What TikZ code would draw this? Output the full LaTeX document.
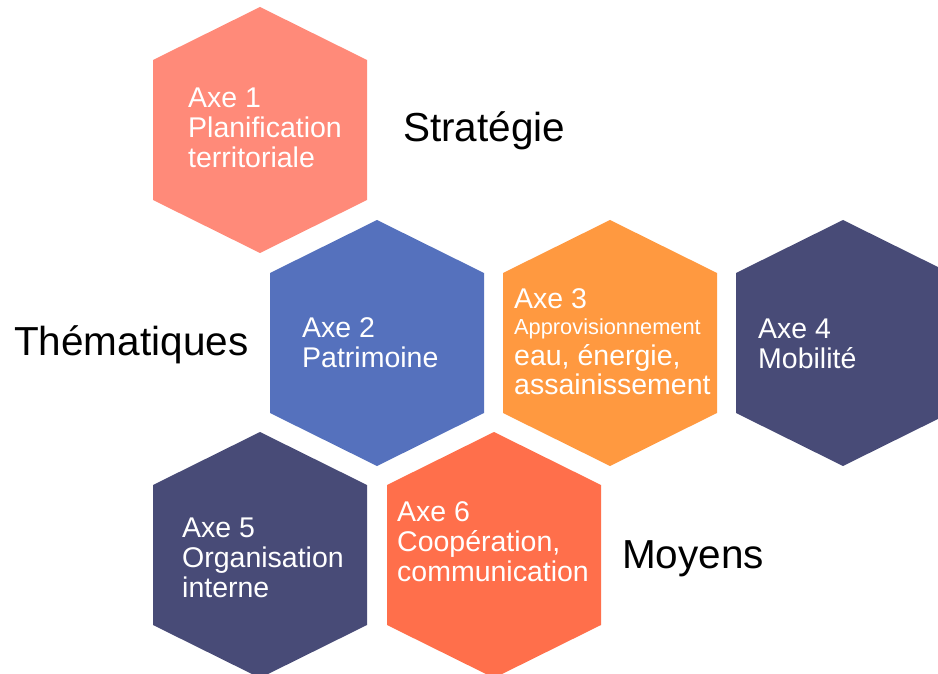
\documentclass[tikz,border=0pt]{standalone}
\usepackage{fontspec}
\setmainfont{Liberation Sans}
\definecolor{salmon}{RGB}{255,138,121}
\definecolor{bluehex}{RGB}{85,113,189}
\definecolor{orangehex}{RGB}{255,153,64}
\definecolor{navyhex}{RGB}{72,75,119}
\definecolor{coralhex}{RGB}{255,111,75}
\begin{document}
\begin{tikzpicture}[x=1pt,y=-1pt,
  axetext/.style={anchor=base west,align=left,text=white,inner sep=0pt,
    font=\fontsize{28.5}{30}\selectfont},
  grouplabel/.style={anchor=base west,inner sep=0pt,text=black,
    font=\fontsize{40.5}{46}\selectfont}]
\useasboundingbox (0,0) rectangle (938,674);
\newcommand\hexshape[3]{%
  \fill[#3] (#1,#2) ++(0,-123) -- ++(107,53) -- ++(0,140) -- ++(-107,53)
    -- ++(-107,-53) -- ++(0,-140) -- cycle;}
\hexshape{260}{130}{salmon}
\hexshape{377}{343}{bluehex}
\hexshape{610}{343}{orangehex}
\hexshape{843}{343}{navyhex}
\hexshape{260}{555}{navyhex}
\hexshape{494}{555}{coralhex}
% anchor = baseline of the last line
\node[axetext] (a1) at (188,168) {Axe 1\\Planification\\territoriale};
\node[axetext] (a2) at (302,367) {Axe 2\\Patrimoine};
\node[axetext] (a3) at (514,394) {Axe 3\\[-4pt]{\fontsize{21.8}{26}\selectfont Approvisionnement}\\[1pt]eau, énergie,\\[-1pt]assainissement};
\node[axetext] (a4) at (758,368) {Axe 4\\Mobilité};
\node[axetext] (a5) at (182,597) {Axe 5\\Organisation\\interne};
\node[axetext] (a6) at (397,581) {Axe 6\\Coopération,\\communication};
\node[grouplabel] (strat) at (403,142) {Stratégie};
\node[grouplabel] (them) at (14,355) {Thématiques};
\node[grouplabel] (moy) at (622,568) {Moyens};
\end{tikzpicture}
\end{document}
